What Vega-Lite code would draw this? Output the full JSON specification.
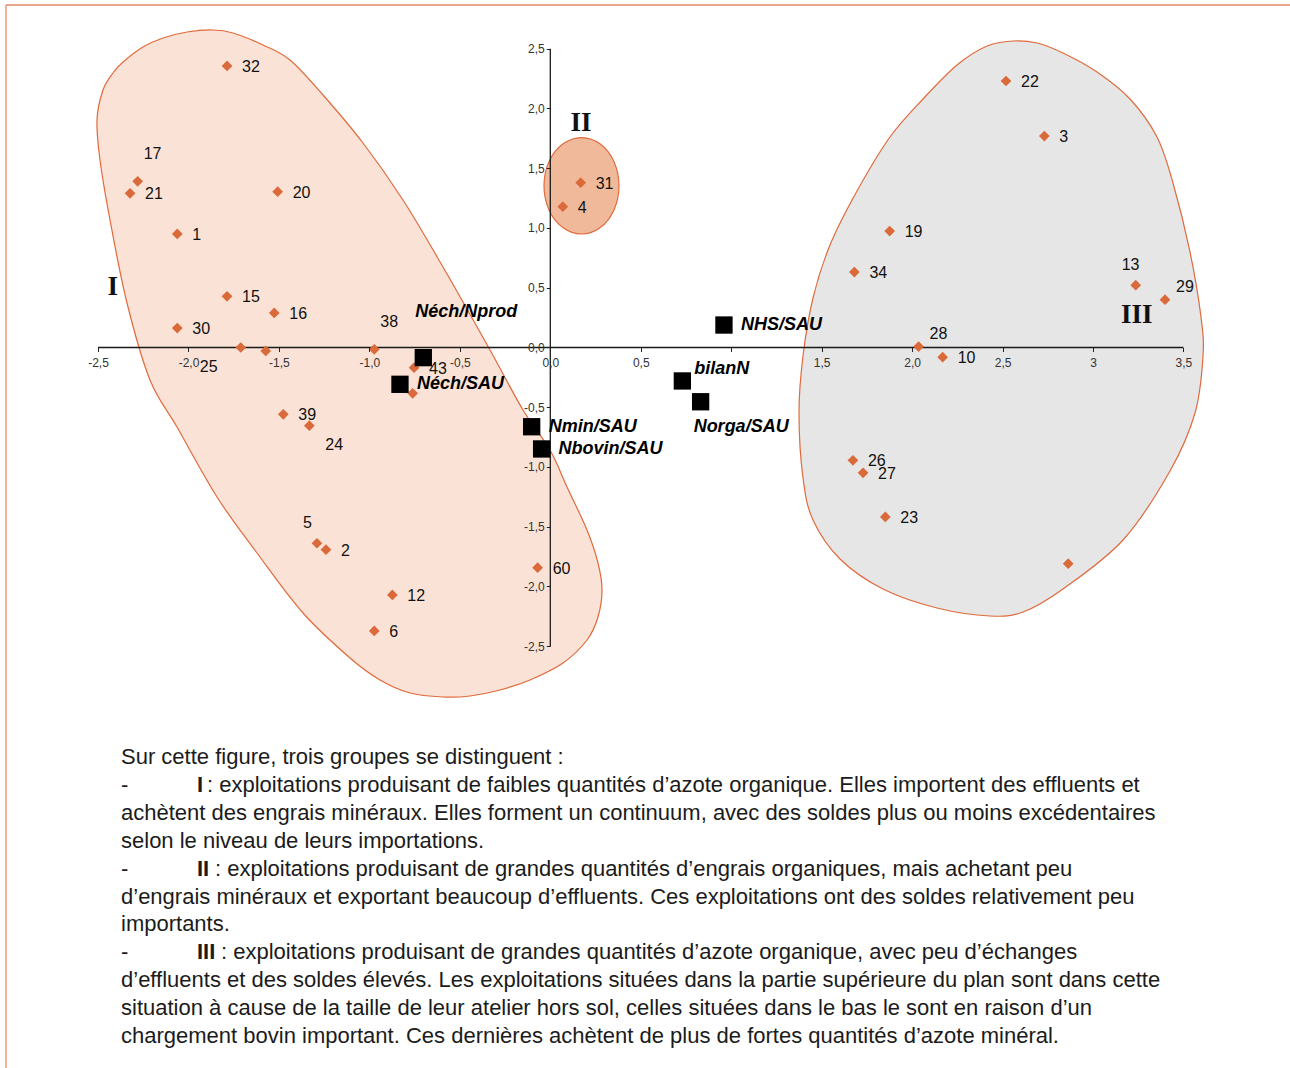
{
  "$schema": "https://vega.github.io/schema/vega-lite/v6.json",
  "width": 1290,
  "height": 1068,
  "autosize": {"type": "none"},
  "padding": 0,
  "background": "white",
  "config": {"view": {"stroke": null}},
  "datasets": {
    "blob1": [
      {"i":1,"x":-1.8646,"y":2.6569},{"i":2,"x":-1.7540,"y":2.6318},{"i":3,"x":-1.5882,"y":2.5314},{"i":4,"x":-1.4389,"y":2.4059},
      {"i":5,"x":-1.2565,"y":2.1130},{"i":6,"x":-1.0354,"y":1.7113},{"i":7,"x":-0.8143,"y":1.2343},{"i":8,"x":-0.5931,"y":0.6736},
      {"i":9,"x":-0.3333,"y":-0.0209},{"i":10,"x":-0.1509,"y":-0.5230},{"i":11,"x":-0.0017,"y":-0.8577},{"i":12,"x":0.0923,"y":-1.1674},
      {"i":13,"x":0.2029,"y":-1.5272},{"i":14,"x":0.2637,"y":-1.8033},{"i":15,"x":0.2858,"y":-2.0293},{"i":16,"x":0.2637,"y":-2.2552},
      {"i":17,"x":0.2029,"y":-2.4477},{"i":18,"x":0.0702,"y":-2.6402},{"i":19,"x":-0.1122,"y":-2.7824},{"i":20,"x":-0.2781,"y":-2.8661},
      {"i":21,"x":-0.4439,"y":-2.9163},{"i":22,"x":-0.5931,"y":-2.9247},{"i":23,"x":-0.7756,"y":-2.8912},{"i":24,"x":-0.9414,"y":-2.7824},
      {"i":25,"x":-1.1072,"y":-2.5983},{"i":26,"x":-1.3671,"y":-2.2218},{"i":27,"x":-1.6213,"y":-1.7197},{"i":28,"x":-1.8425,"y":-1.2510},
      {"i":29,"x":-2.0636,"y":-0.6653},{"i":30,"x":-2.2128,"y":-0.2720},{"i":31,"x":-2.3400,"y":0.3724},{"i":32,"x":-2.4339,"y":1.0669},
      {"i":33,"x":-2.4892,"y":1.5690},{"i":34,"x":-2.5058,"y":1.9038},{"i":35,"x":-2.4726,"y":2.1548},{"i":36,"x":-2.4173,"y":2.2971},
      {"i":37,"x":-2.3621,"y":2.3891},{"i":38,"x":-2.2515,"y":2.5146},{"i":39,"x":-2.1410,"y":2.5900},{"i":40,"x":-2.0083,"y":2.6402}
    ],
    "blob2": [
      {"i":1,"x":0.3798,"y":1.3531},{"i":2,"x":0.3521,"y":1.5548},{"i":3,"x":0.2764,"y":1.7021},{"i":4,"x":0.1725,"y":1.7565},
      {"i":5,"x":0.0691,"y":1.7021},{"i":6,"x":-0.0072,"y":1.5548},{"i":7,"x":-0.0348,"y":1.3531},{"i":8,"x":-0.0072,"y":1.1515},
      {"i":9,"x":0.0691,"y":1.0042},{"i":10,"x":0.1725,"y":0.9498},{"i":11,"x":0.2764,"y":1.0042},{"i":12,"x":0.3521,"y":1.1515}
    ],
    "blob3": [
      {"i":1,"x":2.5578,"y":2.5649},{"i":2,"x":2.6905,"y":2.5481},{"i":3,"x":2.8342,"y":2.4644},{"i":4,"x":3.0221,"y":2.3054},
      {"i":5,"x":3.2045,"y":2.0795},{"i":6,"x":3.3538,"y":1.7615},{"i":7,"x":3.4422,"y":1.3766},{"i":8,"x":3.5362,"y":0.7992},
      {"i":9,"x":3.5970,"y":0.2552},{"i":10,"x":3.6081,"y":-0.0711},{"i":11,"x":3.5639,"y":-0.5481},{"i":12,"x":3.4256,"y":-1.0335},
      {"i":13,"x":3.1658,"y":-1.6109},{"i":14,"x":2.8342,"y":-2.0209},{"i":15,"x":2.6131,"y":-2.2134},{"i":16,"x":2.4306,"y":-2.2469},
      {"i":17,"x":2.1377,"y":-2.1799},{"i":18,"x":1.8391,"y":-2.0209},{"i":19,"x":1.6015,"y":-1.7699},{"i":20,"x":1.4522,"y":-1.4435},
      {"i":21,"x":1.3969,"y":-1.0921},{"i":22,"x":1.3748,"y":-0.5481},{"i":23,"x":1.3969,"y":-0.0711},{"i":24,"x":1.4522,"y":0.4142},
      {"i":25,"x":1.5462,"y":0.8577},{"i":26,"x":1.6954,"y":1.3096},{"i":27,"x":1.8778,"y":1.7615},{"i":28,"x":2.0603,"y":2.0795},
      {"i":29,"x":2.2482,"y":2.3640},{"i":30,"x":2.4140,"y":2.5230}
    ],
    "hlines": [
      {"x":-2.5,"x2":3.5,"y":0,"kind":"axis"},
      {"x":-3.0088,"x2":4.089,"y":2.8661,"kind":"border"}
    ],
    "vlines": [
      {"x":0,"y":2.5,"y2":-2.5,"kind":"axis"},
      {"x":-3.0088,"y":2.8661,"y2":-6.0293,"kind":"border"}
    ],
    "obs": [
      {"x":-1.787,"y":2.356,"label":"32","pos":"r"},
      {"x":-2.281,"y":1.391,"label":"17","pos":"a"},
      {"x":-2.323,"y":1.290,"label":"21","pos":"r"},
      {"x":-1.507,"y":1.304,"label":"20","pos":"r"},
      {"x":-2.062,"y":0.950,"label":"1","pos":"r"},
      {"x":-1.787,"y":0.428,"label":"15","pos":"r"},
      {"x":-1.526,"y":0.289,"label":"16","pos":"r"},
      {"x":-2.062,"y":0.163,"label":"30","pos":"r"},
      {"x":-1.711,"y":0.000,"label":"25","pos":"bl"},
      {"x":-1.573,"y":-0.029,"label":"","pos":"r"},
      {"x":-0.973,"y":-0.015,"label":"38","pos":"a"},
      {"x":-0.753,"y":-0.169,"label":"43","pos":"r"},
      {"x":-0.761,"y":-0.383,"label":"","pos":"r"},
      {"x":-1.476,"y":-0.559,"label":"39","pos":"r"},
      {"x":-1.332,"y":-0.654,"label":"24","pos":"br"},
      {"x":-1.290,"y":-1.638,"label":"5","pos":"al"},
      {"x":-1.240,"y":-1.692,"label":"2","pos":"r"},
      {"x":-0.070,"y":-1.843,"label":"60","pos":"r"},
      {"x":-0.873,"y":-2.071,"label":"12","pos":"r"},
      {"x":-0.973,"y":-2.372,"label":"6","pos":"r"},
      {"x":0.168,"y":1.379,"label":"31","pos":"r"},
      {"x":0.069,"y":1.178,"label":"4","pos":"r"},
      {"x":2.519,"y":2.230,"label":"22","pos":"r"},
      {"x":2.731,"y":1.769,"label":"3","pos":"r"},
      {"x":1.876,"y":0.974,"label":"19","pos":"r"},
      {"x":1.681,"y":0.631,"label":"34","pos":"r"},
      {"x":3.236,"y":0.521,"label":"13","pos":"al"},
      {"x":3.398,"y":0.400,"label":"29","pos":"ar"},
      {"x":2.036,"y":0.008,"label":"28","pos":"ar"},
      {"x":2.169,"y":-0.081,"label":"10","pos":"r"},
      {"x":1.673,"y":-0.944,"label":"26","pos":"r"},
      {"x":1.729,"y":-1.049,"label":"27","pos":"r"},
      {"x":1.852,"y":-1.418,"label":"23","pos":"r"},
      {"x":2.863,"y":-1.809,"label":"","pos":"r"}
    ],
    "vars": [
      {"x":0.960,"y":0.188,"label":"NHS/SAU","pos":"r"},
      {"x":0.730,"y":-0.280,"label":"bilanN","pos":"ar"},
      {"x":0.831,"y":-0.454,"label":"Norga/SAU","pos":"b"},
      {"x":-0.103,"y":-0.663,"label":"Nmin/SAU","pos":"r"},
      {"x":-0.048,"y":-0.849,"label":"Nbovin/SAU","pos":"r"},
      {"x":-0.702,"y":-0.085,"label":"Néch/Nprod","pos":"a"},
      {"x":-0.831,"y":-0.308,"label":"Néch/SAU","pos":"r"}
    ],
    "groups": [
      {"x":-2.419,"y":0.509,"label":"I"},
      {"x":0.170,"y":1.876,"label":"II"},
      {"x":3.242,"y":0.269,"label":"III"}
    ],
    "para": [
      {"line":1,"seg":"body","text":"Sur cette figure, trois groupes se distinguent :"},
      {"line":2,"seg":"dash","text":"-"},
      {"line":2,"seg":"num","text":"I"},
      {"line":2,"seg":"rest","text":": exploitations produisant de faibles quantités d’azote organique. Elles importent des effluents et"},
      {"line":3,"seg":"body","text":"achètent des engrais minéraux. Elles forment un continuum, avec des soldes plus ou moins excédentaires"},
      {"line":4,"seg":"body","text":"selon le niveau de leurs importations."},
      {"line":5,"seg":"dash","text":"-"},
      {"line":5,"seg":"num","text":"II"},
      {"line":5,"seg":"rest","text":": exploitations produisant de grandes quantités d’engrais organiques, mais achetant peu"},
      {"line":6,"seg":"body","text":"d’engrais minéraux et exportant beaucoup d’effluents. Ces exploitations ont des soldes relativement peu"},
      {"line":7,"seg":"body","text":"importants."},
      {"line":8,"seg":"dash","text":"-"},
      {"line":8,"seg":"num","text":"III"},
      {"line":8,"seg":"rest","text":": exploitations produisant de grandes quantités d’azote organique, avec peu d’échanges"},
      {"line":9,"seg":"body","text":"d’effluents et des soldes élevés. Les exploitations situées dans la partie supérieure du plan sont dans cette"},
      {"line":10,"seg":"body","text":"situation à cause de la taille de leur atelier hors sol, celles situées dans le bas le sont en raison d’un"},
      {"line":11,"seg":"body","text":"chargement bovin important. Ces dernières achètent de plus de fortes quantités d’azote minéral."}
    ]
  },
  "layer": [
    {
      "encoding": {
        "x": {"field": "x", "type": "quantitative",
              "scale": {"domain": [-3.042, 4.089], "nice": false, "zero": false},
              "axis": {"orient": "bottom", "offset": -720.5, "values": [-2.5,-2,-1.5,-1,-0.5,0,0.5,1,1.5,2,2.5,3,3.5],
                       "labelExpr": "datum.value == 1 ? '' : datum.value == 3 ? '3' : replace(replace(format(datum.value, '.1f'), '.', ','), '−', '-')",
                       "domain": false, "grid": false, "tickSize": 4, "tickColor": "#222222", "tickWidth": 1,
                       "labelFont": "Liberation Sans", "labelFontSize": 12, "labelColor": "#333333", "labelPadding": 6,
                       "labelOverlap": false, "labelFlush": false, "labelBound": false, "title": null, "zindex": 1}},
        "y": {"field": "y", "type": "quantitative",
              "scale": {"domain": [-6.0293, 2.9079], "nice": false, "zero": false},
              "axis": {"orient": "left", "offset": -550.3, "values": [-2.5,-2,-1.5,-1,-0.5,0,0.5,1,1.5,2,2.5],
                       "labelExpr": "replace(replace(format(datum.value, '.1f'), '.', ','), '−', '-')",
                       "domain": false, "grid": false, "tickSize": 4, "tickColor": "#222222", "tickWidth": 1,
                       "labelFont": "Liberation Sans", "labelFontSize": 12, "labelColor": "#333333", "labelPadding": 2,
                       "labelOverlap": false, "labelFlush": false, "labelBound": false, "title": null, "zindex": 1}}
      },
      "layer": [
        {"data": {"name": "blob3"},
         "mark": {"type": "line", "interpolate": "cardinal-closed", "fill": "#E6E6E6", "stroke": "#E06A3C", "strokeWidth": 1.2},
         "encoding": {"order": {"field": "i", "type": "quantitative"}}},
        {"data": {"name": "blob1"},
         "mark": {"type": "line", "interpolate": "cardinal-closed", "fill": "#FAE3D6", "stroke": "#E06A3C", "strokeWidth": 1.2},
         "encoding": {"order": {"field": "i", "type": "quantitative"}}},
        {"data": {"name": "blob2"},
         "mark": {"type": "line", "interpolate": "cardinal-closed", "fill": "#F0BA9A", "stroke": "#E06A3C", "strokeWidth": 1.2},
         "encoding": {"order": {"field": "i", "type": "quantitative"}}},
        {"data": {"name": "hlines"},
         "mark": {"type": "rule", "strokeWidth": 1.3},
         "encoding": {"x2": {"field": "x2"},
                      "color": {"field": "kind", "type": "nominal", "scale": {"domain": ["axis", "border"], "range": ["#1a1a1a", "#E58A66"]}, "legend": null}}},
        {"data": {"name": "vlines"},
         "mark": {"type": "rule", "strokeWidth": 1.3},
         "encoding": {"y2": {"field": "y2"},
                      "color": {"field": "kind", "type": "nominal", "scale": {"domain": ["axis", "border"], "range": ["#1a1a1a", "#EBA68A"]}, "legend": null}}},
        {"data": {"name": "obs"},
         "mark": {"type": "point", "shape": "diamond", "filled": true, "size": 115, "color": "#DB6A3B", "opacity": 1}},
        {"data": {"name": "vars"},
         "mark": {"type": "point", "shape": "square", "filled": true, "size": 300, "color": "#000000", "opacity": 1}},
        {"data": {"name": "obs"}, "transform": [{"filter": "datum.pos == 'r'"}],
         "mark": {"type": "text", "align": "left", "baseline": "middle", "dx": 15, "dy": 1, "font": "Liberation Sans", "fontSize": 16, "color": "#111111"},
         "encoding": {"text": {"field": "label"}}},
        {"data": {"name": "obs"}, "transform": [{"filter": "datum.pos == 'a'"}],
         "mark": {"type": "text", "align": "left", "baseline": "middle", "dx": 6, "dy": -27, "font": "Liberation Sans", "fontSize": 16, "color": "#111111"},
         "encoding": {"text": {"field": "label"}}},
        {"data": {"name": "obs"}, "transform": [{"filter": "datum.pos == 'al'"}],
         "mark": {"type": "text", "align": "left", "baseline": "middle", "dx": -14, "dy": -20, "font": "Liberation Sans", "fontSize": 16, "color": "#111111"},
         "encoding": {"text": {"field": "label"}}},
        {"data": {"name": "obs"}, "transform": [{"filter": "datum.pos == 'ar'"}],
         "mark": {"type": "text", "align": "left", "baseline": "middle", "dx": 11, "dy": -13, "font": "Liberation Sans", "fontSize": 16, "color": "#111111"},
         "encoding": {"text": {"field": "label"}}},
        {"data": {"name": "obs"}, "transform": [{"filter": "datum.pos == 'br'"}],
         "mark": {"type": "text", "align": "left", "baseline": "middle", "dx": 16, "dy": 19, "font": "Liberation Sans", "fontSize": 16, "color": "#111111"},
         "encoding": {"text": {"field": "label"}}},
        {"data": {"name": "obs"}, "transform": [{"filter": "datum.pos == 'bl'"}],
         "mark": {"type": "text", "align": "left", "baseline": "middle", "dx": -41, "dy": 20, "font": "Liberation Sans", "fontSize": 16, "color": "#111111"},
         "encoding": {"text": {"field": "label"}}},
        {"data": {"name": "vars"}, "transform": [{"filter": "datum.pos == 'r'"}],
         "mark": {"type": "text", "align": "left", "baseline": "middle", "dx": 17, "dy": 0, "font": "Liberation Sans", "fontSize": 18, "fontWeight": "bold", "fontStyle": "italic", "color": "#000000"},
         "encoding": {"text": {"field": "label"}}},
        {"data": {"name": "vars"}, "transform": [{"filter": "datum.pos == 'ar'"}],
         "mark": {"type": "text", "align": "left", "baseline": "middle", "dx": 12, "dy": -12, "font": "Liberation Sans", "fontSize": 18, "fontWeight": "bold", "fontStyle": "italic", "color": "#000000"},
         "encoding": {"text": {"field": "label"}}},
        {"data": {"name": "vars"}, "transform": [{"filter": "datum.pos == 'b'"}],
         "mark": {"type": "text", "align": "left", "baseline": "middle", "dx": -7, "dy": 25, "font": "Liberation Sans", "fontSize": 18, "fontWeight": "bold", "fontStyle": "italic", "color": "#000000"},
         "encoding": {"text": {"field": "label"}}},
        {"data": {"name": "vars"}, "transform": [{"filter": "datum.pos == 'a'"}],
         "mark": {"type": "text", "align": "left", "baseline": "middle", "dx": -8, "dy": -46, "font": "Liberation Sans", "fontSize": 18, "fontWeight": "bold", "fontStyle": "italic", "color": "#000000"},
         "encoding": {"text": {"field": "label"}}},
        {"data": {"name": "groups"},
         "mark": {"type": "text", "align": "center", "baseline": "middle", "font": "Liberation Serif", "fontSize": 27, "fontWeight": "bold", "color": "#111111"},
         "encoding": {"text": {"field": "label"}}}
      ]
    },
    {
      "data": {"name": "para"},
      "encoding": {
        "y": {"field": "line", "type": "quantitative", "scale": {"domain": [-26.133, 12.147], "reverse": true, "nice": false, "zero": false}, "axis": null}
      },
      "layer": [
        {"transform": [{"filter": "datum.seg == 'body' || datum.seg == 'dash'"}],
         "mark": {"type": "text", "align": "left", "baseline": "middle", "font": "Liberation Sans", "fontSize": 22, "color": "#1b1b1b"},
         "encoding": {"x": {"datum": -2.3731, "type": "quantitative"}, "text": {"field": "text"}}},
        {"transform": [{"filter": "datum.seg == 'num'"}],
         "mark": {"type": "text", "align": "left", "baseline": "middle", "font": "Liberation Sans", "fontSize": 22, "fontWeight": "bold", "color": "#1b1b1b"},
         "encoding": {"x": {"datum": -1.9530, "type": "quantitative"}, "text": {"field": "text"}}},
        {"transform": [{"filter": "datum.seg == 'rest' && datum.line == 2"}],
         "mark": {"type": "text", "align": "left", "baseline": "middle", "font": "Liberation Sans", "fontSize": 22, "color": "#1b1b1b"},
         "encoding": {"x": {"datum": -1.8978, "type": "quantitative"}, "text": {"field": "text"}}},
        {"transform": [{"filter": "datum.seg == 'rest' && datum.line == 5"}],
         "mark": {"type": "text", "align": "left", "baseline": "middle", "font": "Liberation Sans", "fontSize": 22, "color": "#1b1b1b"},
         "encoding": {"x": {"datum": -1.8536, "type": "quantitative"}, "text": {"field": "text"}}},
        {"transform": [{"filter": "datum.seg == 'rest' && datum.line == 8"}],
         "mark": {"type": "text", "align": "left", "baseline": "middle", "font": "Liberation Sans", "fontSize": 22, "color": "#1b1b1b"},
         "encoding": {"x": {"datum": -1.8204, "type": "quantitative"}, "text": {"field": "text"}}}
      ]
    }
  ],
  "resolve": {"scale": {"y": "independent"}}
}
